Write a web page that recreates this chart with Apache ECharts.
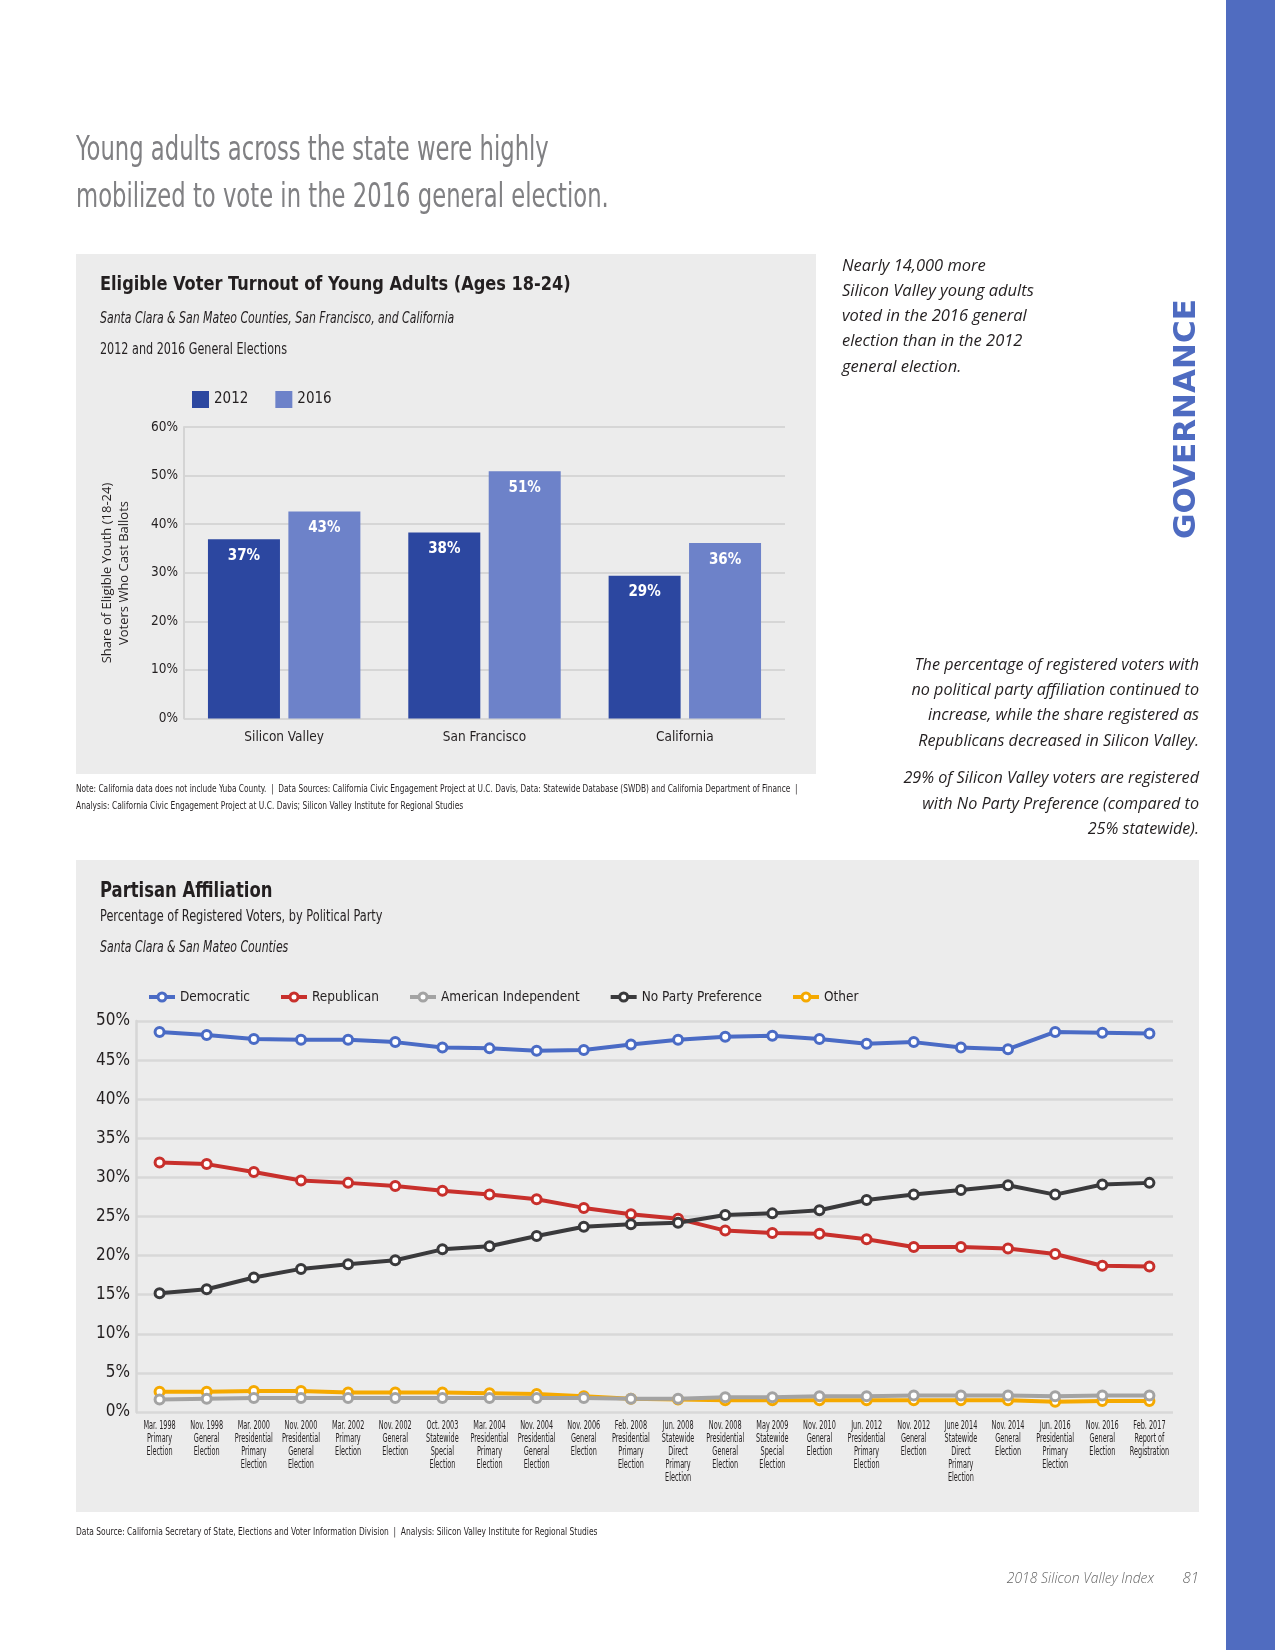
<!DOCTYPE html>
<html>
<head>
<meta charset="utf-8">
<script src="https://cdn.jsdelivr.net/npm/echarts@6/dist/echarts.min.js"></script>
<style>
html,body{margin:0;padding:0;background:#fff;}
#chart{width:1275px;height:1650px;}
</style>
</head>
<body>
<div id="chart"></div>
<script>
// ---- Data: turnout chart ----
var turnoutCategories = ['Silicon Valley', 'San Francisco', 'California'];
var turnout2012 = [36.9, 38.3, 29.4];
var turnout2016 = [42.6, 50.9, 36.1];
var turnoutTicks = [0, 10, 20, 30, 40, 50, 60];

// ---- Data: partisan affiliation ----
var electionLabels = [
  'Mar. 1998\nPrimary\nElection',
  'Nov. 1998\nGeneral\nElection',
  'Mar. 2000\nPresidential\nPrimary\nElection',
  'Nov. 2000\nPresidential\nGeneral\nElection',
  'Mar. 2002\nPrimary\nElection',
  'Nov. 2002\nGeneral\nElection',
  'Oct. 2003\nStatewide\nSpecial\nElection',
  'Mar. 2004\nPresidential\nPrimary\nElection',
  'Nov. 2004\nPresidential\nGeneral\nElection',
  'Nov. 2006\nGeneral\nElection',
  'Feb. 2008\nPresidential\nPrimary\nElection',
  'Jun. 2008\nStatewide\nDirect\nPrimary\nElection',
  'Nov. 2008\nPresidential\nGeneral\nElection',
  'May 2009\nStatewide\nSpecial\nElection',
  'Nov. 2010\nGeneral\nElection',
  'Jun. 2012\nPresidential\nPrimary\nElection',
  'Nov. 2012\nGeneral\nElection',
  'June 2014\nStatewide\nDirect\nPrimary\nElection',
  'Nov. 2014\nGeneral\nElection',
  'Jun. 2016\nPresidential\nPrimary\nElection',
  'Nov. 2016\nGeneral\nElection',
  'Feb. 2017\nReport of\nRegistration'
];
var democratic = [48.6, 48.2, 47.7, 47.6, 47.6, 47.3, 46.6, 46.5, 46.2, 46.3, 47.0, 47.6, 48.0, 48.1, 47.7, 47.1, 47.3, 46.6, 46.4, 48.6, 48.5, 48.4];
var republican = [31.9, 31.7, 30.7, 29.6, 29.3, 28.9, 28.3, 27.8, 27.2, 26.1, 25.3, 24.7, 23.2, 22.9, 22.8, 22.1, 21.1, 21.1, 20.9, 20.2, 18.7, 18.6];
var americanIndependent = [1.6, 1.7, 1.8, 1.8, 1.8, 1.8, 1.8, 1.8, 1.8, 1.8, 1.7, 1.7, 1.9, 1.9, 2.0, 2.0, 2.1, 2.1, 2.1, 2.0, 2.1, 2.1];
var noPartyPreference = [15.2, 15.7, 17.2, 18.3, 18.9, 19.4, 20.8, 21.2, 22.5, 23.7, 24.0, 24.2, 25.2, 25.4, 25.8, 27.1, 27.8, 28.4, 29.0, 27.8, 29.1, 29.3];
var other = [2.6, 2.6, 2.7, 2.7, 2.5, 2.5, 2.5, 2.4, 2.3, 2.0, 1.7, 1.6, 1.5, 1.5, 1.5, 1.5, 1.5, 1.5, 1.5, 1.3, 1.4, 1.4];
var partisanTicks = [0, 5, 10, 15, 20, 25, 30, 35, 40, 45, 50];

var NARROW = "'DejaVu Sans Condensed', 'Liberation Sans', sans-serif";
var HUMAN = "'Open Sans', 'DejaVu Sans', sans-serif";
var DARK = '#231f20';

var chart = echarts.init(document.getElementById('chart'), null, {renderer: 'canvas'});

function txt(x, y, text, font, sx, extra) {
  var s = Object.assign({text: text, x: 0, y: 0, fill: DARK, font: font, textVerticalAlign: 'middle'}, extra || {});
  return {type: 'text', x: x, y: y, scaleX: sx || 1, z: 5, style: s};
}
var RIGHT = {textAlign: 'right'};
var CI = 'italic 16px ' + HUMAN;
var FOOT = 'italic 300 15px ' + HUMAN;

var graphics = [
  // side stripe
  {type: 'rect', z: -10, shape: {x: 1226, y: 0, width: 49, height: 1650}, style: {fill: '#506cc0'}},
  // panels
  {type: 'rect', z: -10, shape: {x: 76, y: 254, width: 740, height: 520}, style: {fill: '#ececec'}},
  {type: 'rect', z: -10, shape: {x: 76, y: 860, width: 1123, height: 652}, style: {fill: '#ececec'}},
  // page heading
  txt(76, 151, 'Young adults across the state were highly', '33px ' + NARROW, 0.765, {fill: '#808083'}),
  txt(76, 198, 'mobilized to vote in the 2016 general election.', '33px ' + NARROW, 0.765, {fill: '#808083'}),
  // GOVERNANCE
  {type: 'text', x: 1187, y: 419, rotation: Math.PI / 2, z: 5,
   style: {text: 'GOVERNANCE', fill: '#4e6bc1', font: 'bold 31px "DejaVu Sans", sans-serif', textAlign: 'center', textVerticalAlign: 'middle'}},
  // bar chart titles
  txt(100, 285, 'Eligible Voter Turnout of Young Adults (Ages 18-24)', 'bold 20px ' + NARROW, 0.9),
  txt(100, 319, 'Santa Clara & San Mateo Counties, San Francisco, and California', 'italic 15px ' + NARROW, 0.81),
  txt(100, 350, '2012 and 2016 General Elections', '15px ' + NARROW, 0.83),
  // bar chart y axis name
  {type: 'text', x: 116, y: 573, rotation: Math.PI / 2, z: 5,
   style: {text: 'Share of Eligible Youth (18-24)\nVoters Who Cast Ballots', fill: DARK, font: '13px ' + HUMAN,
           textAlign: 'center', textVerticalAlign: 'middle', lineHeight: 17}},
  // notes
  txt(76, 789, 'Note: California data does not include Yuba County.  |  Data Sources: California Civic Engagement Project at U.C. Davis, Data: Statewide Database (SWDB) and California Department of Finance  |', '11px ' + NARROW, 0.75),
  txt(76, 806, 'Analysis: California Civic Engagement Project at U.C. Davis; Silicon Valley Institute for Regional Studies', '11px ' + NARROW, 0.76),
  // right commentary
  txt(842, 266, 'Nearly 14,000 more', CI, 1.03),
  txt(842, 291, 'Silicon Valley young adults', CI, 1.03),
  txt(842, 316, 'voted in the 2016 general', CI, 1.03),
  txt(842, 341, 'election than in the 2012', CI, 1.03),
  txt(842, 367, 'general election.', CI, 1.03),
  txt(1199, 665, 'The percentage of registered voters with', CI, 1.01, RIGHT),
  txt(1199, 690, 'no political party affiliation continued to', CI, 1.01, RIGHT),
  txt(1199, 715, 'increase, while the share registered as', CI, 1.01, RIGHT),
  txt(1199, 741, 'Republicans decreased in Silicon Valley.', CI, 1.01, RIGHT),
  txt(1199, 778, '29% of Silicon Valley voters are registered', CI, 1.01, RIGHT),
  txt(1199, 804, 'with No Party Preference (compared to', CI, 1.01, RIGHT),
  txt(1199, 829, '25% statewide).', CI, 1.01, RIGHT),
  // line chart titles
  txt(100, 892, 'Partisan Affiliation', 'bold 21px ' + NARROW, 0.87),
  txt(100, 917, 'Percentage of Registered Voters, by Political Party', '15px ' + NARROW, 0.84),
  txt(100, 948, 'Santa Clara & San Mateo Counties', 'italic 15px ' + NARROW, 0.81),
  // footer
  txt(76, 1532, 'Data Source: California Secretary of State, Elections and Voter Information Division  |  Analysis: Silicon Valley Institute for Regional Studies', '11px ' + NARROW, 0.76),
  txt(1154, 1579, '2018 Silicon Valley Index', FOOT, 0.93, {textAlign: 'right', fill: '#666'}),
  txt(1199, 1579, '81', FOOT, 1, {textAlign: 'right', fill: '#666'})
];

var lineColors = ['#4a6bc5', '#c8302c', '#a3a3a3', '#3a3a3c', '#f5a900'];
function lineSeries(name, data, color) {
  return {
    name: name, type: 'line', xAxisIndex: 1, yAxisIndex: 1, data: data,
    symbol: 'circle', symbolSize: 9,
    lineStyle: {color: color, width: 4},
    itemStyle: {color: '#fff', borderColor: color, borderWidth: 3},
    emphasis: {disabled: true}
  };
}
function barLabel() {
  return {show: true, position: 'insideTop', distance: 9, color: '#fff', fontFamily: NARROW, fontWeight: 'bold', fontSize: 15,
          formatter: function (p) { return Math.round(p.value) + '%'; }};
}

var option = {
  animation: false,
  backgroundColor: 'transparent',
  graphic: {elements: graphics},
  legend: [
    {
      data: ['2012', '2016'], left: 192, top: 391, padding: 0, itemWidth: 17, itemHeight: 17, itemGap: 27,
      icon: 'rect',
      textStyle: {fontFamily: NARROW, fontSize: 15, color: DARK}
    },
    {
      data: ['Democratic', 'Republican', 'American Independent', 'No Party Preference', 'Other'],
      left: 147, top: 990, padding: 0, itemWidth: 26, itemHeight: 10, itemGap: 29,
      lineStyle: {width: 4},
      itemStyle: {borderWidth: 3},
      textStyle: {fontFamily: NARROW, fontSize: 13.5, color: DARK}
    }
  ],
  grid: [
    {left: 184, top: 427, width: 601, height: 291.5, containLabel: false},
    {left: 136, top: 1021, width: 1037, height: 391, containLabel: false}
  ],
  xAxis: [
    {
      gridIndex: 0, type: 'category', data: turnoutCategories,
      axisLine: {show: false}, axisTick: {show: false},
      axisLabel: {fontFamily: NARROW, fontSize: 13.5, color: DARK, margin: 12}
    },
    {
      gridIndex: 1, type: 'category', data: electionLabels, boundaryGap: true,
      axisLine: {show: false}, axisTick: {show: false},
      axisLabel: {show: false}
    }
  ],
  yAxis: [
    {
      gridIndex: 0, type: 'value', min: turnoutTicks[0], max: turnoutTicks[turnoutTicks.length - 1], interval: 10,
      axisLine: {show: true, lineStyle: {color: '#d4d4d4', width: 2}}, axisTick: {show: false},
      splitLine: {lineStyle: {color: '#d6d6d6', width: 2}},
      axisLabel: {formatter: '{value}%', fontFamily: NARROW, fontSize: 13.5, color: DARK, margin: 6}
    },
    {
      gridIndex: 1, type: 'value', min: partisanTicks[0], max: partisanTicks[partisanTicks.length - 1], interval: 5,
      axisLine: {show: true, lineStyle: {color: '#d6d6d6', width: 2.5}}, axisTick: {show: false},
      splitLine: {lineStyle: {color: '#d8d8d8', width: 2.5}},
      axisLabel: {formatter: '{value}%', fontFamily: NARROW, fontSize: 17, color: DARK, margin: 6}
    }
  ],
  series: [
    {
      name: '2012', type: 'bar', xAxisIndex: 0, yAxisIndex: 0, data: turnout2012,
      barWidth: 72, barGap: '11.7%',
      itemStyle: {color: '#2c47a0'},
      label: barLabel(),
      emphasis: {disabled: true}
    },
    {
      name: '2016', type: 'bar', xAxisIndex: 0, yAxisIndex: 0, data: turnout2016,
      barWidth: 72, barGap: '11.7%',
      itemStyle: {color: '#6d82c9'},
      label: barLabel(),
      emphasis: {disabled: true}
    },
    lineSeries('Democratic', democratic, lineColors[0]),
    lineSeries('Republican', republican, lineColors[1]),
    lineSeries('Other', other, lineColors[4]),
    lineSeries('American Independent', americanIndependent, lineColors[2]),
    lineSeries('No Party Preference', noPartyPreference, lineColors[3])
  ]
};
chart.setOption(option);

// Category labels of the partisan chart, placed through the category axis scale
var labelElems = electionLabels.map(function (lbl, i) {
  var p = chart.convertToPixel({gridIndex: 1}, [i, partisanTicks[0]]);
  return {
    type: 'text', x: p[0], y: p[1] + 8, scaleX: 0.63, z: 5,
    style: {text: lbl, fill: DARK, font: '11.5px ' + NARROW, textAlign: 'center', textVerticalAlign: 'top', lineHeight: 12.8}
  };
});
chart.setOption({graphic: {elements: graphics.concat(labelElems)}});
</script>
</body>
</html>
